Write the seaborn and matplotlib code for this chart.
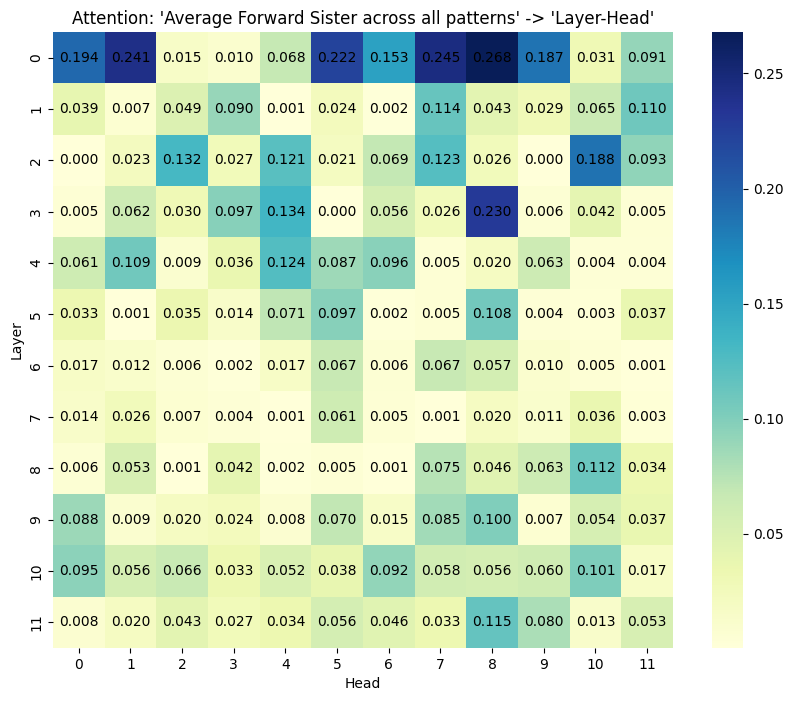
import matplotlib
matplotlib.use("Agg")
import matplotlib.pyplot as plt
import seaborn as sns
import numpy as np
import pandas as pd

layers = [str(i) for i in range(12)]
heads = [str(i) for i in range(12)]

row0 = [0.194, 0.241, 0.015, 0.010, 0.068, 0.222, 0.153, 0.245, 0.268, 0.187, 0.031, 0.091]
row1 = [0.039, 0.007, 0.049, 0.090, 0.001, 0.024, 0.002, 0.114, 0.043, 0.029, 0.065, 0.110]
row2 = [0.0004, 0.023, 0.132, 0.027, 0.121, 0.021, 0.069, 0.123, 0.026, 0.0003, 0.188, 0.093]
row3 = [0.005, 0.062, 0.030, 0.097, 0.134, 0.0004, 0.056, 0.026, 0.230, 0.006, 0.042, 0.005]
row4 = [0.061, 0.109, 0.009, 0.036, 0.124, 0.087, 0.096, 0.005, 0.020, 0.063, 0.004, 0.004]
row5 = [0.033, 0.001, 0.035, 0.014, 0.071, 0.097, 0.002, 0.005, 0.108, 0.004, 0.003, 0.037]
row6 = [0.017, 0.012, 0.006, 0.002, 0.017, 0.067, 0.006, 0.067, 0.057, 0.010, 0.005, 0.001]
row7 = [0.014, 0.026, 0.007, 0.004, 0.001, 0.061, 0.005, 0.001, 0.020, 0.011, 0.036, 0.003]
row8 = [0.006, 0.053, 0.001, 0.042, 0.002, 0.005, 0.001, 0.075, 0.046, 0.063, 0.112, 0.034]
row9 = [0.088, 0.009, 0.020, 0.024, 0.008, 0.070, 0.015, 0.085, 0.100, 0.007, 0.054, 0.037]
row10 = [0.095, 0.056, 0.066, 0.033, 0.052, 0.038, 0.092, 0.058, 0.056, 0.060, 0.101, 0.017]
row11 = [0.008, 0.020, 0.043, 0.027, 0.034, 0.056, 0.046, 0.033, 0.115, 0.080, 0.013, 0.053]

data = pd.DataFrame([row0, row1, row2, row3, row4, row5, row6, row7, row8, row9, row10, row11],
                    index=layers, columns=heads)

fig = plt.figure(figsize=(7.93, 7.01), dpi=100)
ax = fig.add_axes([0.0668, 0.0756, 0.7818, 0.8787])
cax = fig.add_axes([0.8979, 0.0756, 0.0391, 0.8787])
sns.heatmap(data, ax=ax, cbar_ax=cax, cmap="YlGnBu", annot=True, fmt=".3f",
            annot_kws={"color": "black", "fontsize": 10})
ax.set_title("Attention: 'Average Forward Sister across all patterns' -> 'Layer-Head'", fontsize=12)
ax.set_xlabel("Head")
ax.set_ylabel("Layer")
fig.savefig("out.png", dpi=100)
